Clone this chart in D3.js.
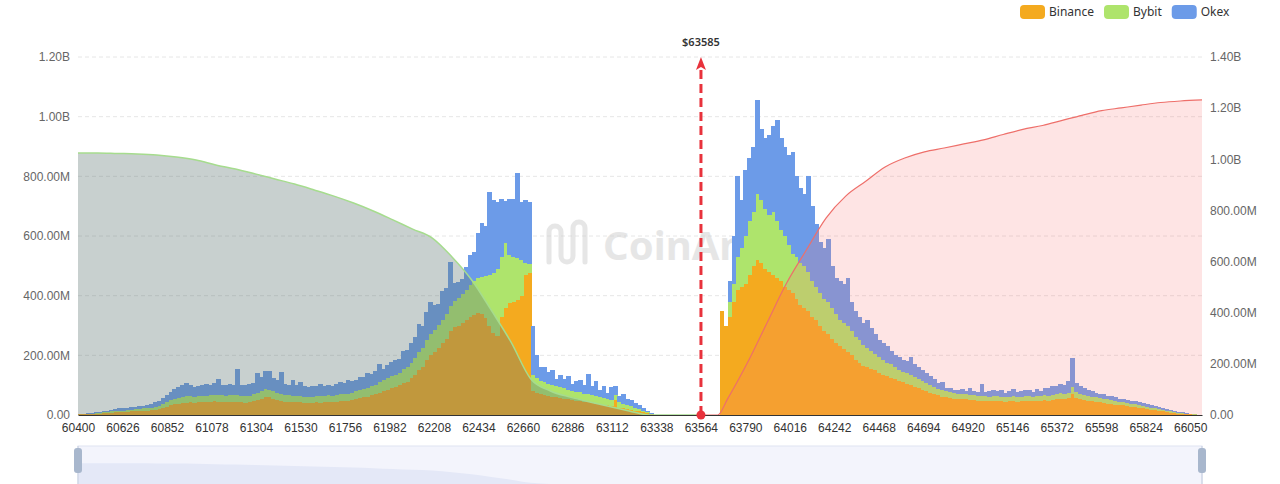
<!DOCTYPE html>
<html>
<head>
<meta charset="utf-8">
<script src="https://cdn.jsdelivr.net/npm/d3@7"></script>
<style>
  body { margin: 0; background: #fff; }
  svg { display: block; font-family: "Noto Sans", "Open Sans", sans-serif; }
</style>
</head>
<body>
<svg id="chart" width="1280" height="484"></svg>
<script>

// price levels, in USD; values in millions of USD
const binStep = 20;
const leftStart = 60400;
const rightStart = 63660;
const currentPrice = 63585;

const seriesNames = ['Binance', 'Bybit', 'Okex'];
const seriesColors = ['#f4aa1f', '#aee46c', '#6c9be8'];

const binanceLeft = [
  2,2,3,3,4,5,6,7,8,9,
  10,10,11,12,12,13,14,15,16,18,
  20,24,28,32,36,38,40,41,42,40,
  42,44,43,45,46,44,42,43,45,44,
  44,42,41,43,46,50,55,62,60,55,
  50,47,45,44,43,42,42,41,40,41,
  42,41,43,44,42,45,46,48,47,49,
  55,58,60,62,66,70,75,82,85,90,
  95,100,108,112,125,135,150,162,185,200,
  210,225,240,255,280,295,300,310,320,330,
  335,342,338,325,300,275,265,330,360,375,
  380,385,400,470,476,80,74,70,68,65,
  62,60,58,55,52,50,48,46,44,42,
  40,38,36,34,32,30,50,25,22,20,
  18,15,12,9,6,3
];
const bybitLeft = [
  1,1,1,2,2,2,3,3,4,4,
  5,5,6,6,7,7,8,8,9,10,
  11,13,15,17,19,20,21,22,22,21,
  22,21,22,23,22,23,24,22,21,23,
  22,21,22,22,23,24,25,24,25,24,
  24,23,22,22,21,21,22,21,20,21,
  21,22,21,22,23,22,24,23,25,24,
  25,26,28,28,30,32,34,35,38,40,
  40,42,45,48,50,55,60,62,68,72,
  75,78,80,82,85,88,92,96,100,105,
  115,118,125,140,170,200,225,200,216,160,
  150,140,120,40,30,55,50,45,42,40,
  38,36,35,34,33,32,30,30,28,27,
  26,25,24,23,22,20,18,17,15,14,
  12,10,8,6,4,2
];
const okexLeft = [
  1,2,2,2,3,4,4,5,6,6,
  7,8,7,9,8,10,9,11,12,14,
  16,20,25,28,32,35,38,45,35,33,
  34,36,40,32,38,52,36,34,38,35,
  88,38,36,40,38,68,48,62,64,45,
  42,74,38,36,52,37,48,36,35,34,
  33,40,34,36,32,38,42,36,45,40,
  37,42,39,52,43,45,61,38,43,46,
  50,46,60,57,67,73,95,76,92,108,
  85,70,95,90,148,60,55,50,75,100,
  95,150,182,170,277,245,225,195,140,190,
  195,286,195,210,208,165,76,45,50,40,
  50,25,40,30,45,22,35,40,28,70,
  30,50,25,40,20,45,30,22,35,18,
  20,14,12,8,5,2
];

const binanceRight = [
  350,300,330,380,420,430,440,470,500,520,
  510,490,480,470,460,450,430,420,410,390,
  370,360,350,330,320,300,280,270,255,240,
  230,220,210,200,185,175,165,160,155,150,
  140,135,130,125,120,115,110,105,100,95,
  90,85,80,75,70,66,62,60,58,55,
  54,52,52,50,50,48,48,47,46,47,
  48,46,45,46,47,45,46,47,48,46,
  47,48,50,48,50,52,55,54,56,70,
  58,54,50,48,46,44,42,40,38,36,
  35,33,32,30,28,26,24,22,20,18,
  16,14,12,10,8,7,5,4,3,2,
  1,1
];
const bybitRight = [
  0,0,50,60,110,130,160,180,180,220,
  210,200,190,210,190,170,170,150,130,140,
  140,140,130,120,110,110,110,110,105,100,
  90,90,90,80,75,75,70,65,60,55,
  55,50,45,45,40,35,35,35,35,33,
  32,30,28,25,25,22,22,20,20,20,
  18,18,18,17,17,17,17,16,16,17,
  16,16,15,16,16,15,16,16,17,16,
  17,16,18,17,18,18,18,18,19,25,
  19,18,17,16,16,15,15,14,14,13,
  12,12,11,11,10,10,9,9,8,7,
  6,6,5,4,4,3,3,2,2,1,
  1,0
];
const okexRight = [
  0,0,70,160,270,160,220,210,220,316,
  240,240,270,290,340,310,300,300,340,270,
  250,240,320,250,210,170,170,210,140,120,
  130,130,160,100,90,80,75,95,75,65,
  55,55,55,45,40,45,40,40,60,42,
  38,35,32,30,25,18,25,12,14,10,
  12,16,10,25,14,12,40,15,18,20,
  16,22,14,18,25,16,18,22,20,16,
  24,18,22,26,30,28,32,28,40,95,
  30,26,22,20,18,16,14,16,12,14,
  12,10,12,10,9,10,9,8,8,7,
  7,6,5,5,4,3,3,3,2,1,
  1,0
];

// cumulative liquidation (right axis)
const cumLeftPrice = [60400,60500,60600,60700,60800,60900,61000,61100,61200,61300,
  61400,61500,61600,61700,61800,61900,62000,62100,62200,62300,
  62400,62500,62600,62700,62800,62900,63000,63100,63200,63300,63585];
const cumLeftValue = [1025,1025,1023,1021,1017,1009,997,978,962,943,
  923,903,880,856,829,798,763,727,692,618,
  528,409,285,141,94,70,51,33,16,0,0];

const cumRightPrice = [63585,63650,63700,63800,63900,64000,64100,64200,64300,64400,
  64500,64600,64700,64800,64900,65000,65100,65200,65300,65400,
  65500,65600,65700,65800,65900,66000,66110];
const cumRightValue = [0,0,63,203,360,516,645,770,856,913,
  970,1005,1029,1044,1060,1076,1097,1117,1132,1152,
  1172,1190,1201,1212,1222,1228,1232];

const xTicks = [60400,60626,60852,61078,61304,61530,61756,61982,62208,62434,62660,62886,63112,
  63338,63564,63790,64016,64242,64468,64694,64920,65146,65372,65598,65824,66050];
const leftTicks = [0,200,400,600,800,1000,1200];
const rightTicks = [0,200,400,600,800,1000,1200,1400];


class LiquidationView
{
  constructor()
  {
    this.margin = {top: 57, right: 78, bottom: 69, left: 78};
    this.width = 1280 - this.margin.left - this.margin.right;
    this.bottom = 484 - this.margin.bottom;

    this.svg = d3.select('#chart');

    this.x = d3.scaleLinear().domain([60400, 66110]).range([this.margin.left, this.margin.left + this.width]);
    this.yLeft = d3.scaleLinear().domain([0, 1200]).range([this.bottom, this.margin.top]);
    this.yRight = d3.scaleLinear().domain([0, 1400]).range([this.bottom, this.margin.top]);

    this.fmt = v => v === 0 ? '0.00' : (v >= 1000 ? (v / 1000).toFixed(2) + 'B' : v.toFixed(2) + 'M');
  }

  rows()
  {
    var left = binanceLeft.map((b, i) => ({price: leftStart + i * binStep, binance: b, bybit: bybitLeft[i], okex: okexLeft[i]}));
    var right = binanceRight.map((b, i) => ({price: rightStart + i * binStep, binance: b, bybit: bybitRight[i], okex: okexRight[i]}));
    return left.concat(right);
  }

  draw_grid()
  {
    this.svg.append('g')
      .selectAll('line')
      .data(leftTicks.filter(t => t > 0))
      .join('line')
      .attr('x1', this.x.range()[0])
      .attr('x2', this.x.range()[1])
      .attr('y1', d => this.yLeft(d))
      .attr('y2', d => this.yLeft(d))
      .attr('stroke', '#e6e6e6')
      .attr('stroke-dasharray', '4,3');
  }

  draw_watermark()
  {
    var g = this.svg.append('g').attr('opacity', 0.5);
    g.append('path')
      .attr('d', 'M549,262 V232 A6,6 0 0 1 561,232 V256 A6,6 0 0 0 573,256 V228 A6,6 0 0 1 585,228 V262')
      .attr('fill', 'none')
      .attr('stroke', '#cfcfcf')
      .attr('stroke-width', 5)
      .attr('stroke-linecap', 'round');
    g.append('text')
      .attr('x', 603)
      .attr('y', 260)
      .attr('font-size', 40)
      .attr('font-weight', 700)
      .attr('fill', '#cfcfcf')
      .text('CoinAnk');
  }

  draw_bars()
  {
    var stack = d3.stack().keys(['binance', 'bybit', 'okex'])(this.rows());
    var w = this.x(leftStart + binStep) - this.x(leftStart) + 0.8;

    stack.forEach((layer, i) => {
      this.svg.append('g')
        .attr('shape-rendering', 'crispEdges')
        .selectAll('rect')
        .data(layer.filter(d => d[1] > d[0]))
        .join('rect')
        .attr('x', d => this.x(d.data.price))
        .attr('width', w)
        .attr('y', d => this.yLeft(d[1]))
        .attr('height', d => this.yLeft(d[0]) - this.yLeft(d[1]))
        .attr('fill', seriesColors[i]);
    });
  }

  draw_cumulative()
  {
    var left = cumLeftPrice.map((p, i) => ({price: p, value: cumLeftValue[i]}));
    var right = cumRightPrice.map((p, i) => ({price: p, value: cumRightValue[i]}));

    var area = d3.area()
      .x(d => this.x(d.price))
      .y0(this.yRight(0))
      .y1(d => this.yRight(d.value))
      .curve(d3.curveMonotoneX);
    var line = d3.line()
      .x(d => this.x(d.price))
      .y(d => this.yRight(d.value))
      .curve(d3.curveMonotoneX);

    this.svg.append('path').datum(left).attr('d', area).attr('fill', 'rgba(98,121,118,0.35)');
    this.svg.append('path').datum(right).attr('d', area).attr('fill', 'rgba(248,120,120,0.2)');

    this.svg.append('path').datum(left).attr('d', line)
      .attr('fill', 'none').attr('stroke', '#a6dc8e').attr('stroke-width', 1.5);
    this.svg.append('path').datum(right).attr('d', line)
      .attr('fill', 'none').attr('stroke', '#ee6f6a').attr('stroke-width', 1.2);
  }

  draw_axes()
  {
    var xa = this.svg.append('g')
      .attr('transform', 'translate(0,' + this.bottom + ')')
      .call(d3.axisBottom(this.x).tickValues(xTicks).tickFormat(d3.format('d')).tickSize(0).tickSizeOuter(0).tickPadding(8));
    xa.select('.domain').attr('stroke', '#333');
    xa.selectAll('text').attr('font-size', 12).attr('fill', '#333').attr('font-family', null);

    var yl = this.svg.append('g')
      .attr('transform', 'translate(' + this.x.range()[0] + ',0)')
      .call(d3.axisLeft(this.yLeft).tickValues(leftTicks).tickFormat(this.fmt).tickSize(0).tickPadding(8));
    yl.select('.domain').remove();
    yl.selectAll('text').attr('font-size', 12).attr('fill', '#666').attr('font-family', null);

    var yr = this.svg.append('g')
      .attr('transform', 'translate(' + this.x.range()[1] + ',0)')
      .call(d3.axisRight(this.yRight).tickValues(rightTicks).tickFormat(this.fmt).tickSize(0).tickPadding(8));
    yr.select('.domain').remove();
    yr.selectAll('text').attr('font-size', 12).attr('fill', '#666').attr('font-family', null);
  }

  draw_marker()
  {
    // the marker sits on the nearest labelled category, like the reference
    var mx = this.x(currentPrice) - 4;
    var top = this.yLeft(1200);
    var g = this.svg.append('g');

    g.append('line')
      .attr('x1', mx).attr('x2', mx)
      .attr('y1', this.bottom).attr('y2', top + 12)
      .attr('stroke', '#e8323c')
      .attr('stroke-width', 3)
      .attr('stroke-dasharray', '9,5');
    g.append('path')
      .attr('d', 'M' + mx + ',' + top + ' L' + (mx + 5) + ',' + (top + 13) + ' L' + mx + ',' + (top + 10) + ' L' + (mx - 5) + ',' + (top + 13) + ' Z')
      .attr('fill', '#e8323c');
    g.append('circle')
      .attr('cx', mx).attr('cy', this.bottom).attr('r', 4.5)
      .attr('fill', '#e8323c');
    g.append('text')
      .attr('x', mx)
      .attr('y', top - 11)
      .attr('text-anchor', 'middle')
      .attr('font-size', 11)
      .attr('font-weight', 600)
      .attr('fill', '#333')
      .text('$' + currentPrice);
  }

  draw_legend()
  {
    var g = this.svg.append('g');
    var cx = 1020;
    seriesNames.forEach((name, i) => {
      g.append('rect')
        .attr('x', cx).attr('y', 5)
        .attr('width', 25).attr('height', 14).attr('rx', 4)
        .attr('fill', seriesColors[i]);
      var t = g.append('text')
        .attr('x', cx + 29).attr('y', 16)
        .attr('font-size', 12)
        .attr('fill', '#333')
        .text(name);
      cx += 29 + t.node().getComputedTextLength() + 10;
    });
  }

  draw_slider()
  {
    var x0 = this.x.range()[0], x1 = this.x.range()[1];
    var g = this.svg.append('g');
    var ys = d3.scaleLinear().domain([0, 1800]).range([486, 446]);

    g.append('rect')
      .attr('x', x0).attr('y', 446)
      .attr('width', x1 - x0).attr('height', 44)
      .attr('fill', '#f3f4fc')
      .attr('stroke', '#dfe4f2');

    var shadow = cumLeftPrice.map((p, i) => ({price: p, value: cumLeftValue[i]}))
      .concat(cumRightPrice.slice(1).map(p => ({price: p, value: 0})));
    g.append('path')
      .datum(shadow)
      .attr('d', d3.area().x(d => this.x(d.price)).y0(486).y1(d => ys(d.value)).curve(d3.curveMonotoneX))
      .attr('fill', '#e4e8f7');

    [x0, x1].forEach(hx => {
      g.append('line')
        .attr('x1', hx).attr('x2', hx)
        .attr('y1', 446).attr('y2', 484)
        .attr('stroke', '#c5cedf');
      g.append('rect')
        .attr('x', hx - 4).attr('y', 448)
        .attr('width', 8).attr('height', 25).attr('rx', 3)
        .attr('fill', '#a8b7cd');
    });
  }

  draw()
  {
    this.draw_grid();
    this.draw_watermark();
    this.draw_bars();
    this.draw_cumulative();
    this.draw_axes();
    this.draw_marker();
    this.draw_legend();
    this.draw_slider();
  }
}

new LiquidationView().draw();

</script>
</body>
</html>
